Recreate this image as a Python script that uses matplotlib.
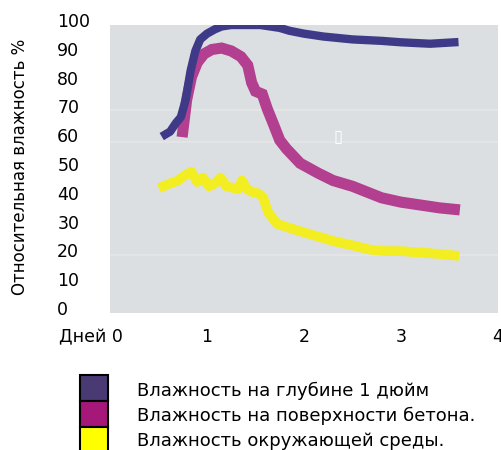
import numpy as np
import matplotlib.pyplot as plt
import matplotlib.transforms as mtransforms
from matplotlib.patches import Rectangle

# depth 1 inch
depth_x = [0.57, 0.62, 0.68, 0.73, 0.78, 0.83, 0.88, 0.93, 1.0, 1.08, 1.15, 1.25, 1.35, 1.45, 1.55, 1.65, 1.75, 1.85, 2.0, 2.2, 2.5, 2.8, 3.0, 3.3, 3.55]
depth_y = [62, 63, 66, 68, 74, 84, 91, 95, 97, 98.5, 99.5, 100, 100, 100, 100, 99.5, 99, 98, 97, 96, 95, 94.5, 94, 93.5, 94]

# concrete surface
surf_x = [0.75, 0.79, 0.84, 0.9, 0.97, 1.05, 1.15, 1.25, 1.35, 1.42, 1.46, 1.5, 1.57, 1.62, 1.68, 1.75, 1.82, 1.96, 2.15, 2.3, 2.5, 2.65, 2.8, 3.0, 3.2, 3.4, 3.55]
surf_y = [63, 74, 82, 87, 90, 91.5, 92, 91, 89, 86, 80, 77, 76, 71, 66, 60, 57, 52, 48.5, 46, 44, 42, 40, 38.5, 37.5, 36.5, 36]

# ambient
amb_x = [0.55, 0.62, 0.7, 0.78, 0.84, 0.9, 0.96, 1.02, 1.08, 1.14, 1.2, 1.26, 1.32, 1.36, 1.41, 1.47, 1.53, 1.58, 1.63, 1.72, 1.9, 2.1, 2.3, 2.5, 2.68, 2.85, 3.0, 3.2, 3.4, 3.55]
amb_y = [44, 45, 46, 48, 49, 45.5, 47, 44, 45, 47, 44, 43.5, 43, 46, 43, 42, 41.5, 40, 35, 31, 29, 27, 25, 23.5, 22, 21.5, 21.5, 21, 20.5, 20]

labels = ["Влажность на глубине 1 дюйм",
          "Влажность на поверхности бетона.",
          "Влажность окружающей среды."]
legend_colors = ["#4a3a74", "#a5187a", "#ffff00"]
x_ticks = [0, 1, 2, 3, 4]
x_labels = ["Дней 0", "1", "2", "3", "4"]
y_ticks = [0, 10, 20, 30, 40, 50, 60, 70, 80, 90, 100]

fs = 12.5

fig = plt.figure(figsize=(5.01, 4.5), dpi=100)
ax = fig.add_axes([0.2196, 0.3044, 0.7744, 0.64])
ax.set_facecolor("#dcdfe1")

# faint lighter bands in the scanned background
for gy in [20, 59.5, 70.5]:
    ax.axhline(gy, color="#e4e6e7", lw=1.2, zorder=0)

ax.plot(amb_x, amb_y, color="#f2ee22", lw=7, solid_joinstyle="round", zorder=2)
ax.plot(surf_x, surf_y, color="#b23f90", lw=8, solid_joinstyle="miter", zorder=3)
ax.plot(depth_x, depth_y, color="#3e3a88", lw=6, zorder=4)

ax.text(2.35, 61, "\u25af", color="white", fontsize=12, ha="center", va="center")

ax.set_xlim(0, 4)
ax.set_ylim(0, 100)
ax.set_xticks(x_ticks)
ax.set_xticklabels(x_labels, fontsize=fs)
ax.set_yticks(y_ticks)
ax.set_yticklabels([str(v) for v in y_ticks], fontsize=fs)
ax.tick_params(axis="x", length=3, color="white", pad=8)
ax.tick_params(axis="y", length=0, pad=38)
for s in ax.spines.values():
    s.set_visible(False)

xl0 = ax.get_xticklabels()[0]
xl0.set_horizontalalignment("right")
xl0.set_transform(xl0.get_transform() +
                  mtransforms.ScaledTranslation(13 / 100, 0, fig.dpi_scale_trans))
shift = mtransforms.ScaledTranslation(0, 5 / 100, fig.dpi_scale_trans)
for lab in ax.get_yticklabels():
    lab.set_horizontalalignment("left")
    lab.set_transform(lab.get_transform() + shift)

fig.text(0.04, 0.63, "Относительная влажность %", rotation=90, fontsize=12,
         ha="center", va="center")

# legend
for i, (lab, c) in enumerate(zip(labels, legend_colors)):
    y0 = 1 - (375 + 26 * i) / 450
    fig.patches.append(Rectangle((80 / 501, y0 - 26 / 450), 28 / 501, 26 / 450,
                                 transform=fig.transFigure, facecolor=c,
                                 edgecolor="black", lw=1.5))
    fig.text(137 / 501, 1 - (391 + 25 * i) / 450, lab, fontsize=13,
             ha="left", va="center")

fig.savefig("out.png", dpi=100)
